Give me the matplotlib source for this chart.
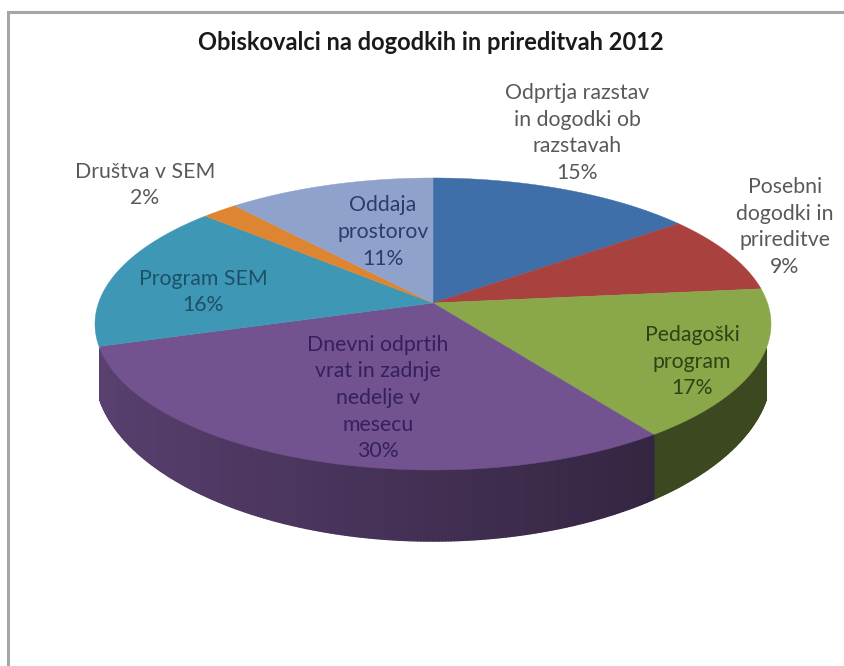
import numpy as np
import matplotlib
matplotlib.use('Agg')
import matplotlib.pyplot as plt
from matplotlib.collections import PolyCollection
from matplotlib.colors import to_rgb

title = 'Obiskovalci na dogodkih in prireditvah 2012'
names = ['Odprtja razstav\nin dogodki ob\nrazstavah', 'Posebni\ndogodki in\nprireditve',
         'Pedagoški\nprogram', 'Dnevni odprtih\nvrat in zadnje\nnedelje v\nmesecu',
         'Program SEM', 'Društva v SEM', 'Oddaja\nprostorov']
values = [14.7, 8.7, 16.7, 30.2, 16.3, 2.0, 11.4]
colors = ['#3f6fa9', '#a9413f', '#8aa84a', '#72528f', '#3e97b5', '#de8531', '#8fa2cc']
text_colors = ['#595959', '#595959', '#2f4214', '#35205f', '#1c5168', '#595959', '#2b3c6e']
label_x = [577, 785, 692, 378, 203, 145, 383]
label_y = [133, 227, 361.5, 398, 292, 185, 232]

# pie geometry in pixels, perspective tilt of the disk
cx, cy = 433, 303
A, B, p = 334.5, 143, 0.1438
depth = 44.5

plt.rcParams['font.family'] = ['Lato', 'DejaVu Sans']


def project(theta):
    u, v = np.sin(theta), np.cos(theta)
    w = 1 + p * v
    return cx + A * u / w, cy - B * v / w, depth / w ** 3


fig = plt.figure(figsize=(8.45, 6.66), dpi=100)
ax = fig.add_axes([0, 0, 1, 1])
ax.set_xlim(0, 845)
ax.set_ylim(666, 0)
ax.axis('off')

# chart frame, only top and left are visible in the crop
ax.plot([8, 8, 845], [666, 12, 12], color='#a6a6a6', lw=2.2, solid_joinstyle='miter')

edges = np.radians(np.cumsum([0] + values) * 3.6)

# side wall, strip by strip so that it darkens towards the right
for i, val in enumerate(values):
    t = np.linspace(edges[i], edges[i + 1], max(int(val * 8), 4) + 1)
    x, y, d = project(t)
    polys, cols = [], []
    for j in range(len(t) - 1):
        # the wall only shows on the front part of the rim
        if np.cos(t[j]) > -0.3 or np.cos(t[j + 1]) > -0.3:
            continue
        polys.append([(x[j], y[j]), (x[j + 1], y[j + 1]),
                      (x[j + 1], y[j + 1] + d[j + 1]), (x[j], y[j] + d[j])])
        f = 0.58 - 0.21 * np.sin(t[j])
        if colors[i] == '#8aa84a':
            f = 0.43
        cols.append(tuple(c * f for c in to_rgb(colors[i])))
    if polys:
        ax.add_collection(PolyCollection(polys, facecolors=cols, edgecolors=cols, linewidths=1.2))

# top face
for i, val in enumerate(values):
    t = np.linspace(edges[i], edges[i + 1], 80)
    x, y, d = project(t)
    ax.fill(np.r_[cx, x], np.r_[cy, y], color=colors[i], lw=0.3)

ax.text(431, 43, title, ha='center', va='center', fontsize=17, fontweight='bold', color='#1a1a1a')

for i, name in enumerate(names):
    ax.text(label_x[i], label_y[i], f'{name}\n{round(values[i])}%', ha='center', va='center',
            fontsize=15.3, color=text_colors[i], linespacing=1.41)

fig.savefig('out.png', dpi=100)
